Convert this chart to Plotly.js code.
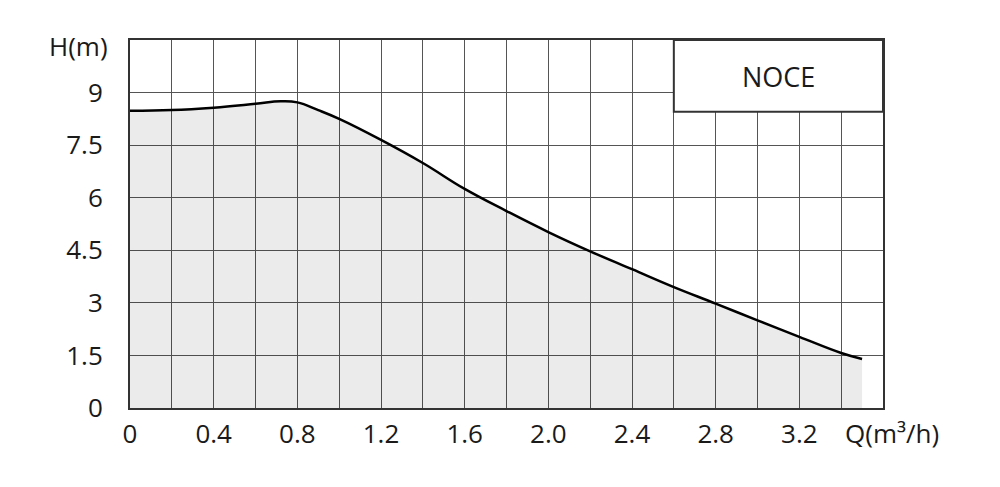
<!DOCTYPE html>
<html>
<head>
<meta charset="utf-8">
<script src="https://cdn.plot.ly/plotly-3.0.1.min.js"></script>
<style>html,body{margin:0;padding:0;background:#fff;}#chart{width:1000px;height:487px;}</style>
</head>
<body>
<div id="chart"></div>
<script>
// Flow Q (m³/h) and head H (m)
const flowQ = [0, 0.2, 0.4, 0.6, 0.72, 0.8, 0.9, 1.0, 1.2, 1.4, 1.6, 1.8, 2.0, 2.2, 2.4, 2.6, 2.8, 3.0, 3.2, 3.4, 3.5];
const headH = [8.48, 8.50, 8.57, 8.68, 8.75, 8.72, 8.50, 8.25, 7.65, 6.99, 6.25, 5.62, 5.02, 4.47, 3.96, 3.45, 2.98, 2.50, 2.03, 1.57, 1.40];
const xTickVals = [0, 0.4, 0.8, 1.2, 1.6, 2.0, 2.4, 2.8, 3.2];
const xTickText = ["0", "0.4", "0.8", "1.2", "1.6", "2.0", "2.4", "2.8", "3.2"];
const yTickVals = [0, 1.5, 3, 4.5, 6, 7.5, 9];
const yTickText = ["0", "1.5", "3", "4.5", "6", "7.5", "9"];
const modelName = "NOCE";
const xAxisLabel = "Q(m³/h)";
const yAxisLabel = "H(m)";

const font = "Open Sans, Noto Sans, sans-serif";
const gridColor = "#555555";

const trace = {
  x: flowQ, y: headH, type: "scatter", mode: "lines",
  line: {color: "#000000", width: 2.5, shape: "spline", smoothing: 1.2},
  fill: "tozeroy", fillcolor: "rgba(0,0,0,0.08)",
  hoverinfo: "skip", showlegend: false
};

const layout = {
  width: 1000, height: 487,
  margin: {l: 130, r: 117, t: 40, b: 79},
  paper_bgcolor: "#ffffff", plot_bgcolor: "#ffffff",
  font: {family: font, size: 26, color: "#1a1a1a"},
  xaxis: {
    range: [0, 3.6], tickvals: xTickVals, ticktext: xTickText,
    showgrid: true, gridcolor: gridColor, gridwidth: 1,
    minor: {dtick: 0.2, tick0: 0, showgrid: true, gridcolor: gridColor, gridwidth: 1},
    showline: true, linecolor: "#333333", linewidth: 2, mirror: true,
    zeroline: false, ticks: "", ticklabelstandoff: 2, fixedrange: true
  },
  yaxis: {
    range: [0, 10.5], tickvals: yTickVals, ticktext: yTickText,
    showgrid: true, gridcolor: gridColor, gridwidth: 1,
    showline: true, linecolor: "#333333", linewidth: 2, mirror: true,
    zeroline: false, ticks: "", ticklabelstandoff: 20, fixedrange: true
  },
  shapes: [{
    type: "rect", xref: "x", yref: "y", x0: 2.6, x1: 3.6, y0: 8.45, y1: 10.5,
    fillcolor: "#ffffff", line: {color: "#333333", width: 2}, layer: "above"
  }],
  annotations: [
    {text: modelName, xref: "x", yref: "y", x: 3.1, y: 9.45, showarrow: false,
     font: {family: font, size: 27, color: "#1a1a1a"}, xanchor: "center", yanchor: "middle"},
    {text: yAxisLabel, xref: "paper", yref: "paper", x: 0, y: 1, xshift: -20, yshift: -6,
     showarrow: false, xanchor: "right", yanchor: "middle",
     font: {family: font, size: 26, color: "#1a1a1a"}},
    {text: xAxisLabel, xref: "paper", yref: "paper", x: 1, y: 0, xshift: 9, yshift: -5,
     showarrow: false, xanchor: "center", yanchor: "top",
     font: {family: font, size: 26, color: "#1a1a1a"}}
  ]
};

Plotly.newPlot("chart", [trace], layout, {displayModeBar: false, staticPlot: true});
</script>
</body>
</html>
